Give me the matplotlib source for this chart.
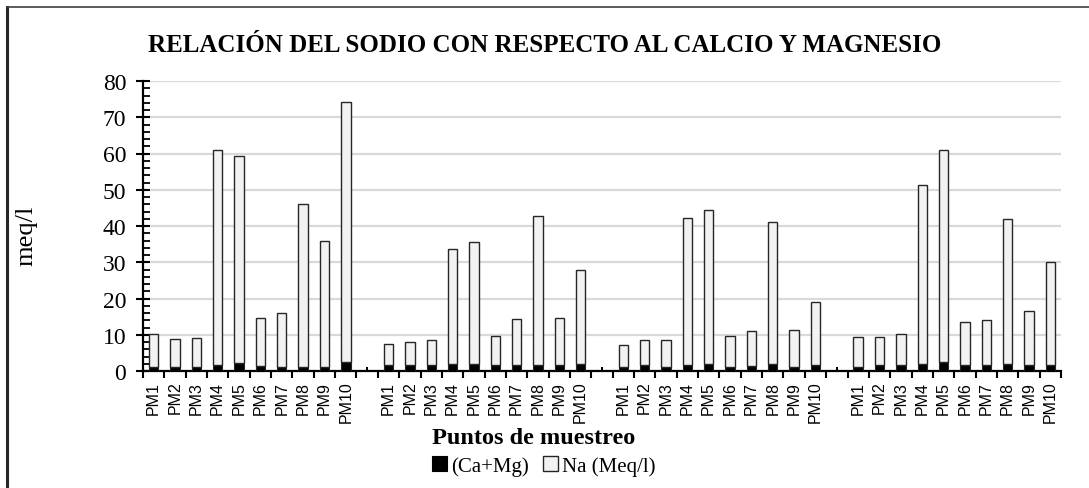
import matplotlib
matplotlib.use("Agg")
import matplotlib.pyplot as plt
import numpy as np
from matplotlib.lines import Line2D
from matplotlib.patches import Patch

# Sampling points (repeated for four campaigns)
points = ["PM1", "PM2", "PM3", "PM4", "PM5", "PM6", "PM7", "PM8", "PM9", "PM10"]

# Ca+Mg (meq/l) per campaign
camg_1 = [1.2, 1.0, 1.0, 1.6, 2.1, 1.4, 1.2, 1.2, 1.0, 2.6]
camg_2 = [1.6, 1.6, 1.6, 1.8, 1.8, 1.7, 1.6, 1.7, 1.7, 2.0]
camg_3 = [1.2, 1.6, 1.2, 1.7, 1.8, 1.2, 1.4, 1.8, 1.2, 1.7]
camg_4 = [1.2, 1.6, 1.6, 2.0, 2.4, 1.7, 1.7, 1.8, 1.7, 1.7]

# Na (meq/l) per campaign
na_1 = [9.1, 7.7, 8.2, 59.4, 57.1, 13.3, 14.9, 45.0, 34.9, 71.6]
na_2 = [5.9, 6.4, 7.0, 31.9, 33.8, 8.0, 12.7, 41.0, 13.0, 25.8]
na_3 = [6.1, 7.0, 7.4, 40.6, 42.6, 8.5, 9.6, 39.4, 10.2, 17.4]
na_4 = [8.3, 7.9, 8.5, 49.4, 58.6, 11.7, 12.4, 40.1, 14.9, 28.4]

# small marker value at the separator slots between campaigns
separator_value = 1.0

groups_camg = [camg_1, camg_2, camg_3, camg_4]
groups_na = [na_1, na_2, na_3, na_4]

labels, camg, na, is_sep = [], [], [], []
for gi, (c, n) in enumerate(zip(groups_camg, groups_na)):
    if gi > 0:
        labels.append("")
        camg.append(separator_value)
        na.append(0.0)
        is_sep.append(True)
    labels.extend(points)
    camg.extend(c)
    na.extend(n)
    is_sep.extend([False] * len(points))

x = np.arange(len(labels))
camg = np.array(camg)
na = np.array(na)
is_sep = np.array(is_sep)

fig = plt.figure(figsize=(10.89, 4.89), dpi=100)
ax = fig.add_axes([143 / 1089, 1 - 372 / 489, (1061 - 143) / 1089, (372 - 82) / 489])

serif = ["Liberation Serif", "DejaVu Serif"]
sans = ["Liberation Sans", "DejaVu Sans"]

bw = 0.44
edge = "#262626"
m = ~is_sep
ax.bar(x[m], camg[m], width=bw, color="black", edgecolor=edge, linewidth=0.8, zorder=3)
ax.bar(x[m], na[m], bottom=camg[m], width=bw, color="#f2f2f2", edgecolor=edge,
       linewidth=1.0, zorder=3)
ax.bar(x[is_sep], camg[is_sep], width=0.07, color="black", linewidth=0, zorder=3)

ax.set_xlim(-0.5, len(labels) - 0.5)
ax.set_ylim(0, 80)

ax.yaxis.grid(True, color="#d9d9d9", linewidth=1.6, zorder=0)
ax.set_axisbelow(True)

for s in ["top", "right"]:
    ax.spines[s].set_visible(False)
ax.spines["left"].set_linewidth(1.6)
ax.spines["bottom"].set_linewidth(1.6)

ax.set_yticks(np.arange(0, 81, 10))
ax.set_yticks(np.arange(0, 81, 2), minor=True)
ax.tick_params(axis="y", which="major", direction="inout", length=10, width=1.5,
               labelsize=17, pad=7)
ax.tick_params(axis="y", which="minor", direction="in", length=5, width=1.3)
for t in ax.get_yticklabels():
    t.set_fontfamily(serif)

ax.set_xticks(x)
ax.set_xticklabels(labels, rotation=90, fontfamily=sans, fontsize=11.5)
ax.tick_params(axis="x", which="major", length=0, pad=7)
ax.set_xticks(np.arange(-0.5, len(labels), 1.0), minor=True)
ax.tick_params(axis="x", which="minor", direction="out", length=5, width=1.5)

ax.set_ylabel("meq/l", fontfamily=serif, fontsize=19)
ax.yaxis.set_label_coords((37 - 143) / 918, 0.47)

fig.text(545 / 1089, 1 - 45 / 489, "RELACIÓN DEL SODIO CON RESPECTO AL CALCIO Y MAGNESIO",
         ha="center", va="center", fontfamily=serif, fontweight="bold", fontsize=18)
fig.text(534 / 1089, 1 - 438 / 489, "Puntos de muestreo", ha="center", va="center",
         fontfamily=serif, fontweight="bold", fontsize=17.5)

handles = [Patch(facecolor="black", edgecolor="black", linewidth=0.8),
           Patch(facecolor="#f2f2f2", edgecolor=edge, linewidth=1.0)]
fig.legend(handles, ["(Ca+Mg)", "Na (Meq/l)"], loc="center",
           bbox_to_anchor=(544 / 1089, 1 - 467 / 489), ncol=2, frameon=False,
           prop={"family": serif, "size": 15}, handlelength=0.7, handleheight=0.7,
           handletextpad=0.2, columnspacing=0.7)

# outer frame of the chart area
fig.add_artist(Line2D([7 / 1089, 7 / 1089], [0, 1 - 8 / 489], transform=fig.transFigure,
                      color="#262626", linewidth=2.2))
fig.add_artist(Line2D([7 / 1089, 1.0], [1 - 8 / 489, 1 - 8 / 489], transform=fig.transFigure,
                      color="#404040", linewidth=1.2))

fig.savefig("out.png", dpi=100)
